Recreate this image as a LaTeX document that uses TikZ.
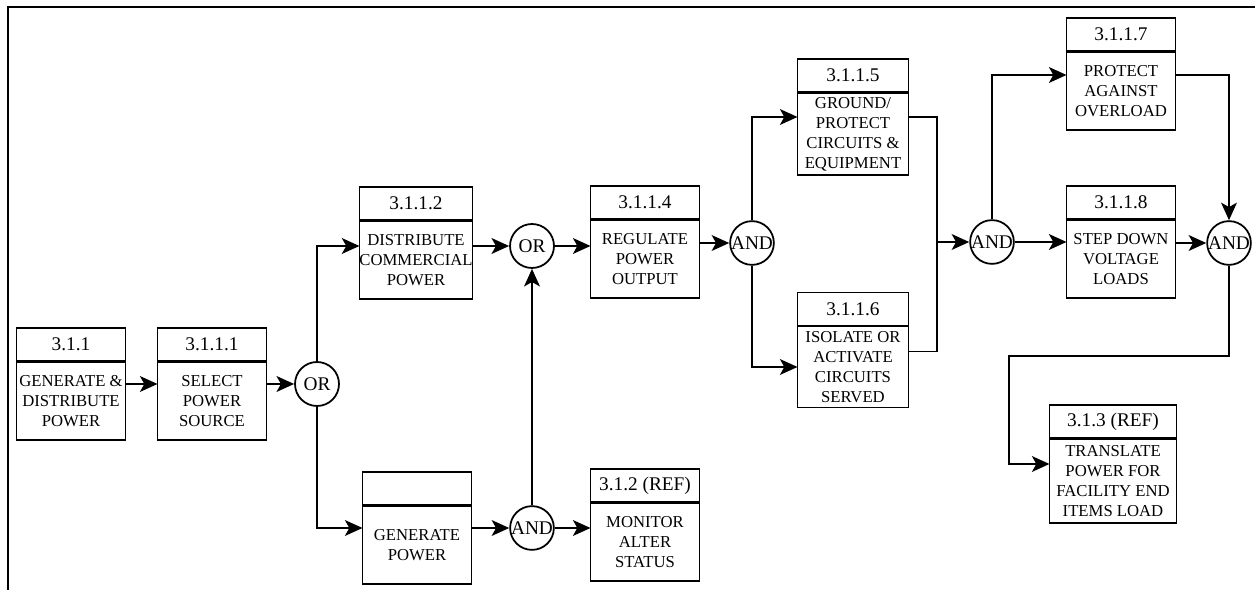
\documentclass[tikz,border=0pt]{standalone}
\usepackage{fontspec}
\setmainfont{Liberation Serif}
\usetikzlibrary{positioning,arrows.meta}
\tikzset{
	body/.style={draw, line width=1pt, outer sep=0pt, inner xsep=0pt, inner ysep=1pt,
		minimum width=2.18cm, minimum height=1.56cm, align=center,
		font=\fontsize{9.5}{11.4}\selectfont},
	head/.style={draw, line width=1pt, outer sep=0pt, inner sep=0pt,
		minimum width=2.18cm, minimum height=0.66cm, font=\fontsize{11}{13}\selectfont},
	gate/.style={draw, circle, line width=1pt, inner sep=0pt, minimum size=0.86cm,
		font=\fontsize{11}{13}\selectfont},
	wire/.style={line width=1.1pt},
	flow/.style={wire, -{Stealth[length=10pt,width=9pt,inset=2.5pt]}}
}
\begin{document}
\begin{tikzpicture}[x=0.02cm, y=-0.02cm]
	\useasboundingbox (0,0) rectangle (1255,590);
	% frame
	\draw[line width=0.8pt] (8,590) -- (8,7) -- (1255,7);
	% function blocks
	\node[body] (b1) at (71,401) {GENERATE \&\\DISTRIBUTE\\POWER};
	\node[head, above=0.6pt of b1] (h1) {3.1.1};
	\node[body] (b2) at (212,401) {SELECT\\POWER\\SOURCE};
	\node[head, above=0.6pt of b2] (h2) {3.1.1.1};
	\node[body, minimum width=2.26cm] (b3) at (416,260) {DISTRIBUTE\\COMMERCIAL\\POWER};
	\node[head, minimum width=2.26cm, above=0.6pt of b3] (h3) {3.1.1.2};
	\node[body] (b4) at (645,259) {REGULATE\\POWER\\OUTPUT};
	\node[head, above=0.6pt of b4] (h4) {3.1.1.4};
	\node[body] (b5) at (417,545) {GENERATE\\POWER};
	\node[head, above=0.6pt of b5] (h5) {};
	\node[body] (b6) at (645,542) {MONITOR\\ALTER\\STATUS};
	\node[head, above=0.6pt of b6] (h6) {3.1.2 (REF)};
	\node[body, minimum width=2.22cm, minimum height=1.64cm] (b7) at (853,134) {GROUND/\\PROTECT\\CIRCUITS \&\\EQUIPMENT};
	\node[head, minimum width=2.22cm, above=0.6pt of b7] (h7) {3.1.1.5};
	\node[body, minimum width=2.22cm, minimum height=1.62cm] (b8) at (853,367) {ISOLATE OR\\ACTIVATE\\CIRCUITS\\SERVED};
	\node[head, minimum width=2.22cm, above=0.6pt of b8] (h8) {3.1.1.6};
	\node[body] (b9) at (1121,91) {PROTECT\\AGAINST\\OVERLOAD};
	\node[head, above=0.6pt of b9] (h9) {3.1.1.7};
	\node[body] (b10) at (1121,259) {STEP DOWN\\VOLTAGE\\LOADS};
	\node[head, above=0.6pt of b10] (h10) {3.1.1.8};
	\node[body, minimum width=2.54cm, minimum height=1.68cm] (b11) at (1113,481) {TRANSLATE\\POWER FOR\\FACILITY END\\ITEMS LOAD};
	\node[head, minimum width=2.54cm, above=0.6pt of b11] (h11) {3.1.3 (REF)};
	% junctions
	\node[gate, minimum size=0.88cm] (or1) at (317,384) {OR};
	\node[gate, minimum size=0.88cm] (or2) at (532,246) {OR};
	\node[gate] (and1) at (532,528) {AND};
	\node[gate] (and2) at (752,243) {AND};
	\node[gate] (and3) at (992,242) {AND};
	\node[gate] (and4) at (1229,243) {AND};
	\coordinate (bus) at (937,242);
	\coordinate (bend) at (1009,356);
	% connectors
	\draw[flow] (b1.east |- or1) -- (b2.west |- or1);
	\draw[flow] (b2.east |- or1) -- (or1);
	\draw[flow] (or1.north) |- (b3.west |- or2);
	\draw[flow] (or1.south) |- (b5.west |- and1);
	\draw[flow] (b3.east |- or2) -- (or2);
	\draw[flow] (or2) -- (b4.west |- or2);
	\draw[flow] (b5.east |- and1) -- (and1);
	\draw[flow] (and1) -- (b6.west |- and1);
	\draw[flow] (and1) -- (or2);
	\draw[flow] (b4.east |- and2) -- (and2);
	\draw[flow] (and2.north) |- ([yshift=0.34cm]b7.west);
	\draw[flow] (and2.south) |- (b8.west);
	\draw[wire] ([yshift=0.34cm]b7.east) -| (bus) |- ([yshift=0.31cm]b8.east);
	\draw[flow] (bus) -- (and3);
	\draw[flow] (and3.north) |- ([yshift=0.32cm]b9.west);
	\draw[flow] (and3) -- (b10.west |- and3);
	\draw[flow] ([yshift=0.32cm]b9.east) -| (and4.north);
	\draw[flow] (b10.east |- and4) -- (and4);
	\draw[flow] (and4.south) |- (bend) |- ([yshift=0.34cm]b11.west);
\end{tikzpicture}
\end{document}
